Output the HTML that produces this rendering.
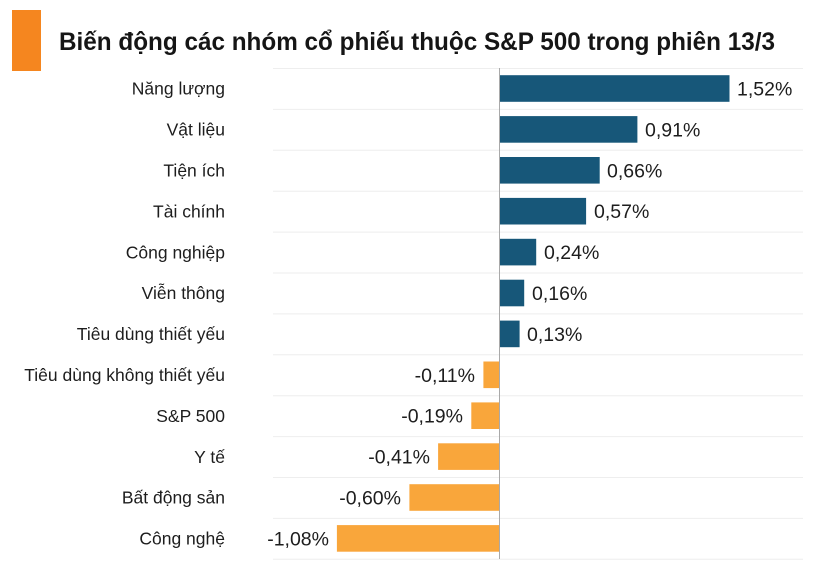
<!DOCTYPE html>
<html><head><meta charset="utf-8"><style>
html,body{margin:0;padding:0;background:#fff;}
svg{display:block;}
text{font-family:"Liberation Sans",sans-serif;fill:#1d1d1d;}
</style></head><body>
<svg width="818" height="563" viewBox="0 0 818 563" xmlns="http://www.w3.org/2000/svg">
<rect x="12" y="10" width="29" height="61" fill="#F5861F"/>
<text x="59" y="50" font-size="25" font-weight="bold" textLength="716" lengthAdjust="spacingAndGlyphs" style="fill:#151515">Biến động các nhóm cổ phiếu thuộc S&amp;P 500 trong phiên 13/3</text>
<g stroke="#eeeeee" stroke-width="1">
<line x1="273" x2="803" y1="68.5" y2="68.5"/>
<line x1="273" x2="803" y1="109.4" y2="109.4"/>
<line x1="273" x2="803" y1="150.3" y2="150.3"/>
<line x1="273" x2="803" y1="191.2" y2="191.2"/>
<line x1="273" x2="803" y1="232.1" y2="232.1"/>
<line x1="273" x2="803" y1="273.0" y2="273.0"/>
<line x1="273" x2="803" y1="313.9" y2="313.9"/>
<line x1="273" x2="803" y1="354.8" y2="354.8"/>
<line x1="273" x2="803" y1="395.7" y2="395.7"/>
<line x1="273" x2="803" y1="436.6" y2="436.6"/>
<line x1="273" x2="803" y1="477.5" y2="477.5"/>
<line x1="273" x2="803" y1="518.4" y2="518.4"/>
<line x1="273" x2="803" y1="559.3" y2="559.3"/>
</g>
<g fill="#175779">
<rect x="500" y="75.2" width="229.5" height="26.6"/>
<rect x="500" y="116.1" width="137.4" height="26.6"/>
<rect x="500" y="157.0" width="99.7" height="26.6"/>
<rect x="500" y="197.9" width="86.1" height="26.6"/>
<rect x="500" y="238.8" width="36.2" height="26.6"/>
<rect x="500" y="279.7" width="24.2" height="26.6"/>
<rect x="500" y="320.6" width="19.6" height="26.6"/>
</g>
<g fill="#F9A63B">
<rect x="483.4" y="361.5" width="16.6" height="26.6"/>
<rect x="471.3" y="402.4" width="28.7" height="26.6"/>
<rect x="438.1" y="443.3" width="61.9" height="26.6"/>
<rect x="409.4" y="484.2" width="90.6" height="26.6"/>
<rect x="336.9" y="525.1" width="163.1" height="26.6"/>
</g>
<line x1="499.5" x2="499.5" y1="68" y2="559" stroke="#a9a9a9" stroke-width="1"/>
<g font-size="17.5" text-anchor="end">
<text x="225" y="94.7">Năng lượng</text>
<text x="225" y="135.6">Vật liệu</text>
<text x="225" y="176.5">Tiện ích</text>
<text x="225" y="217.4">Tài chính</text>
<text x="225" y="258.3">Công nghiệp</text>
<text x="225" y="299.2">Viễn thông</text>
<text x="225" y="340.1">Tiêu dùng thiết yếu</text>
<text x="225" y="381.0">Tiêu dùng không thiết yếu</text>
<text x="225" y="421.9">S&amp;P 500</text>
<text x="225" y="462.8">Y tế</text>
<text x="225" y="503.7">Bất động sản</text>
<text x="225" y="544.6">Công nghệ</text>
</g>
<g font-size="19.5">
<text x="737" y="95.5">1,52%</text>
<text x="645" y="136.4">0,91%</text>
<text x="607" y="177.3">0,66%</text>
<text x="594" y="218.2">0,57%</text>
<text x="544" y="259.1">0,24%</text>
<text x="532" y="300.0">0,16%</text>
<text x="527" y="340.9">0,13%</text>
</g>
<g font-size="19.5" text-anchor="end">
<text x="475" y="381.8">-0,11%</text>
<text x="463" y="422.7">-0,19%</text>
<text x="430" y="463.6">-0,41%</text>
<text x="401" y="504.5">-0,60%</text>
<text x="329" y="545.4">-1,08%</text>
</g>
</svg>
</body></html>
